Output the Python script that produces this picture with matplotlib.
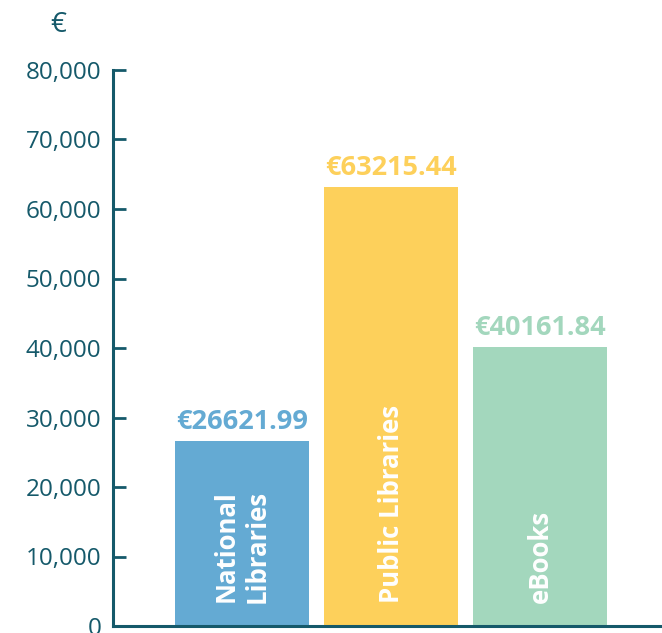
import matplotlib
matplotlib.use("Agg")
import matplotlib.pyplot as plt
from matplotlib.ticker import FuncFormatter

categories = ["National\nLibraries", "Public Libraries", "eBooks"]
values = [26621.99, 63215.44, 40161.84]
colors = ["#64aad3", "#fdd05b", "#a3d7bd"]
yticks = [0, 10000, 20000, 30000, 40000, 50000, 60000, 70000, 80000]

axis_color = "#15596a"
plt.rcParams['font.family'] = ['Open Sans', 'DejaVu Sans']

fig = plt.figure(figsize=(6.62, 6.33), dpi=100)
ax = fig.add_axes([113/662, 7/633, 1 - 113/662, (626-70)/633])

x = list(range(len(values)))
bars = ax.bar(x, values, width=0.9, color=colors, zorder=2)

ax.set_xlim(-0.866, 2.819)
ax.set_ylim(0, 80000)
ax.set_yticks(yticks)
ax.yaxis.set_major_formatter(FuncFormatter(lambda v, p: f"{int(v):,}"))
ax.set_xticks([])

for s in ["top", "right"]:
    ax.spines[s].set_visible(False)
for s in ["left", "bottom"]:
    ax.spines[s].set_color(axis_color)
    ax.spines[s].set_linewidth(2.2)
ax.spines["bottom"].set_zorder(3)

ax.tick_params(axis="y", direction="in", length=9, width=2, color=axis_color,
               labelcolor=axis_color, labelsize=17.5, pad=8.5)

for xi, v, c, cat in zip(x, values, colors, categories):
    ax.annotate(f"€{v:.2f}", (xi, v), xytext=(0, 4), textcoords="offset points",
                ha="center", va="bottom", color=c, fontsize=19.5, fontweight="bold")
    ax.text(xi, 3300, cat, rotation=90, ha="center", va="bottom", color="white",
            fontsize=18.5, fontweight="bold", linespacing=1.2, multialignment="right")

fig.text(58/662, 1 - 25/633, "€", ha="center", va="center", color=axis_color, fontsize=20)

fig.savefig("out.png", dpi=100)
